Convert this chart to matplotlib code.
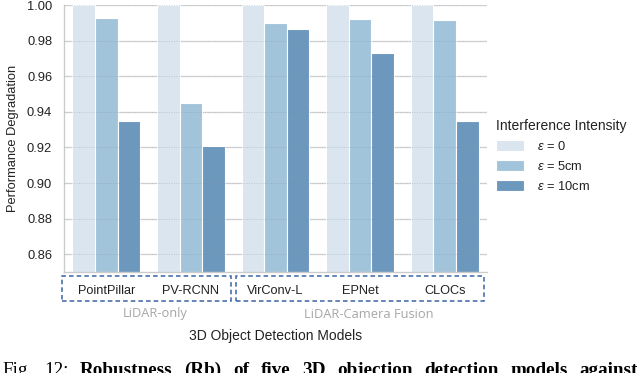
import matplotlib
matplotlib.use("Agg")
import matplotlib.pyplot as plt
import matplotlib.transforms as mtransforms
from matplotlib.patches import Rectangle
import numpy as np

models = ["PointPillar", "PV-RCNN", "VirConv-L", "EPNet", "CLOCs"]
series_labels = [r"$\varepsilon$ = 0", r"$\varepsilon$ = 5cm", r"$\varepsilon$ = 10cm"]
eps0 = [1.0, 1.0, 1.0, 1.0, 1.0]
eps5 = [0.9926, 0.9449, 0.9900, 0.9924, 0.9915]
eps10 = [0.9347, 0.9209, 0.9863, 0.9731, 0.9349]
colors = ["#dbe5f0", "#a1c4da", "#6c98be"]
groups = ["LiDAR-only", "LiDAR-Camera Fusion"]
yticks = [0.86, 0.88, 0.90, 0.92, 0.94, 0.96, 0.98, 1.00]
caption_words = ["Fig.", "12:", "Robustness", "(Rb)", "of", "five", "3D", "objection",
                 "detection", "models", "against"]

plt.rcParams["font.family"] = ["Liberation Sans", "DejaVu Sans"]
plt.rcParams["mathtext.fontset"] = "custom"
plt.rcParams["mathtext.it"] = "Liberation Sans:italic"
plt.rcParams["mathtext.rm"] = "Liberation Sans"

fig = plt.figure(figsize=(6.4, 3.73), dpi=100)
ax = fig.add_axes([64 / 640, 1 - 272 / 373, (487 - 64) / 640, (272 - 5) / 373])

x = np.arange(len(models))
w = 0.8 / 3
for i, (vals, c, lab) in enumerate(zip([eps0, eps5, eps10], colors, series_labels)):
    ax.bar(x + (i - 1) * w, vals, width=w, color=c, edgecolor="white",
           linewidth=0.8, label=lab, zorder=2)

ax.set_xlim(-0.5, len(models) - 0.5)
ax.set_ylim(0.85, 1.0)
ax.set_yticks(yticks)
ax.set_yticklabels([f"{t:.2f}" for t in yticks], fontsize=9.3, color="#222222")
ax.set_xticks(x)
ax.set_xticklabels(models, fontsize=9.2, color="#222222")
ax.tick_params(axis="both", length=0)
ax.tick_params(axis="y", pad=8.5)
ax.tick_params(axis="x", pad=9)
ax.grid(axis="y", color="#d9d9d9", linewidth=1.0, zorder=0)
ax.set_axisbelow(True)
# faint dotted grid over the bars
for t in yticks:
    ax.axhline(t, color="#7a8a99", alpha=0.35, linestyle=(0, (1, 1.5)),
               linewidth=0.7, zorder=3)
for s in ["top", "right"]:
    ax.spines[s].set_visible(False)
for s in ["left", "bottom"]:
    ax.spines[s].set_color("#cccccc")
    ax.spines[s].set_linewidth(1.0)

ax.set_ylabel("Performance Degradation", fontsize=9.3, color="#222222", labelpad=6)
ax.set_xlabel("3D Object Detection Models", fontsize=10, color="#222222", labelpad=23.5)

# dashed group boxes
trans = mtransforms.blended_transform_factory(ax.transData, fig.transFigure)
y0 = 1 - 301 / 373
y1 = 1 - 276 / 373
bounds = [(-0.52, 1.47), (1.53, 4.47)]
for (a, b), g in zip(bounds, groups):
    ax.add_patch(Rectangle((a, y0), b - a, y1 - y0, transform=trans, fill=False,
                           edgecolor="#3b65a6", linestyle=(0, (3, 2)), linewidth=1.1,
                           clip_on=False))
    ax.text((a + b) / 2 + 0.1, 1 - 314 / 373, g, transform=trans, ha="center",
            va="center", fontsize=9.3, color="#a6a6a6",
            family=["Open Sans", "DejaVu Sans"])

leg = ax.legend(loc="center left", bbox_to_anchor=(0.767, 1 - 156 / 373),
                bbox_transform=fig.transFigure, frameon=False,
                title="Interference Intensity", fontsize=9.3, title_fontsize=10,
                handlelength=2.2, handleheight=0.9, labelspacing=0.55,
                handletextpad=1.0, borderaxespad=0)
leg._legend_box.align = "left"
for t in leg.get_texts():
    t.set_color("#222222")
leg.get_title().set_color("#222222")

# caption (partially cut off at bottom, as in the reference)
weights = ["normal", "normal"] + ["bold"] * (len(caption_words) - 2)
fig.canvas.draw()
r = fig.canvas.get_renderer()
texts = []
base_y = 1 - 375 / 373
for wd, wt in zip(caption_words, weights):
    t = fig.text(0, base_y, wd, fontsize=13.8, fontweight=wt,
                 family=["Liberation Serif", "DejaVu Serif"], va="baseline", color="black")
    texts.append(t)
widths = [t.get_window_extent(r).width for t in texts]
left, right = 2.0, 638.0
gap = (right - left - sum(widths)) / (len(caption_words) - 1)
pos = left
for t, wdt in zip(texts, widths):
    t.set_x(pos / 640)
    pos += wdt + gap

fig.savefig("out.png", dpi=100)
